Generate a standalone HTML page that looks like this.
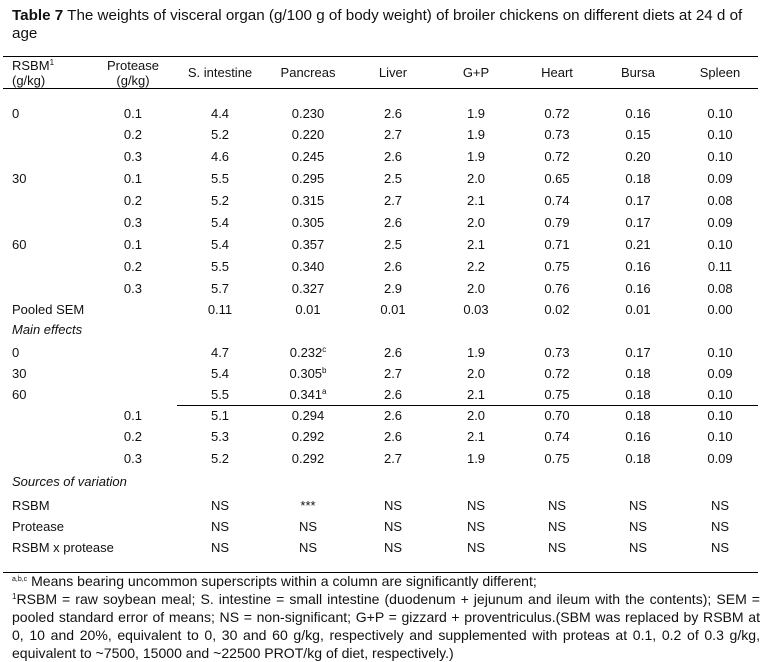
<!DOCTYPE html>
<html><head><meta charset="utf-8">
<style>
body{margin:0;width:769px;height:662px;background:#fff;position:relative;overflow:hidden;font-family:"Liberation Sans",Arial,sans-serif;color:#111;}
.t{position:absolute;font-size:13px;line-height:16px;white-space:nowrap;}
.c{transform:translateX(-50%);text-align:center;}
.r{transform:translateX(-100%);text-align:right;}
.hl{position:absolute;height:1px;background:#000;}
sup{font-size:8px;line-height:0;vertical-align:5px;}
#title{position:absolute;left:12px;top:7px;width:752px;font-size:15.2px;line-height:18px;}
#foot{position:absolute;left:12px;top:572px;width:748px;font-size:14.05px;line-height:18px;text-align:justify;}
</style></head>
<body>
<div id="title"><b>Table 7</b> The weights of visceral organ (g/100 g of body weight) of broiler chickens on different diets at 24 d of age</div>
<div class="hl" style="left:3px;width:755px;top:56px"></div>
<div class="hl" style="left:3px;width:755px;top:88px"></div>
<div class="hl" style="left:177px;width:581px;top:405px"></div>
<div class="hl" style="left:3px;width:755px;top:572px"></div>
<div class="t" style="left:12px;top:58px;line-height:15px">RSBM<sup>1</sup><br>(g/kg)</div>
<div class="t c" style="left:133px;top:58px;line-height:15px">Protease<br>(g/kg)</div>
<div id="foot"><sup style="font-size:7px">a,b,c</sup> Means bearing uncommon superscripts within a column are significantly different;<br><sup>1</sup>RSBM = raw soybean meal; S. intestine = small intestine (duodenum + jejunum and ileum with the contents); SEM = pooled standard error of means; NS = non-significant; G+P = gizzard + proventriculus.(SBM was replaced by RSBM at 0, 10 and 20%, equivalent to 0, 30 and 60 g/kg, respectively and supplemented with proteas at 0.1, 0.2 of 0.3 g/kg, equivalent to ~7500, 15000 and ~22500 PROT/kg of diet, respectively.)</div>
<script>
const colHeaders=["S. intestine","Pancreas","Liver","G+P","Heart","Bursa","Spleen"];
const colX=[220,308,393,476,557,638,720];
const rowY=[114,135,157,179,201,223,245,267,289,310,330,353,374,395,416,437,459,482,506,527,548];
const rowLabels=["0","","","30","","","60","","","Pooled SEM","Main effects","0","30","60","","","","Sources of variation","RSBM","Protease","RSBM x protease"];
const italicRows=[10,17];
const proteaseLabels=["0.1","0.2","0.3","0.1","0.2","0.3","0.1","0.2","0.3","","","","","","0.1","0.2","0.3","","","",""];
const cells=[
["4.4","0.230","2.6","1.9","0.72","0.16","0.10"],
["5.2","0.220","2.7","1.9","0.73","0.15","0.10"],
["4.6","0.245","2.6","1.9","0.72","0.20","0.10"],
["5.5","0.295","2.5","2.0","0.65","0.18","0.09"],
["5.2","0.315","2.7","2.1","0.74","0.17","0.08"],
["5.4","0.305","2.6","2.0","0.79","0.17","0.09"],
["5.4","0.357","2.5","2.1","0.71","0.21","0.10"],
["5.5","0.340","2.6","2.2","0.75","0.16","0.11"],
["5.7","0.327","2.9","2.0","0.76","0.16","0.08"],
["0.11","0.01","0.01","0.03","0.02","0.01","0.00"],
["","","","","","",""],
["4.7","0.232<sup>c</sup>","2.6","1.9","0.73","0.17","0.10"],
["5.4","0.305<sup>b</sup>","2.7","2.0","0.72","0.18","0.09"],
["5.5","0.341<sup>a</sup>","2.6","2.1","0.75","0.18","0.10"],
["5.1","0.294","2.6","2.0","0.70","0.18","0.10"],
["5.3","0.292","2.6","2.1","0.74","0.16","0.10"],
["5.2","0.292","2.7","1.9","0.75","0.18","0.09"],
["","","","","","",""],
["NS","***","NS","NS","NS","NS","NS"],
["NS","NS","NS","NS","NS","NS","NS"],
["NS","NS","NS","NS","NS","NS","NS"]];
function mk(cls,x,y,html){const d=document.createElement('div');d.className='t '+cls;d.style.left=x+'px';d.style.top=(y-8)+'px';d.innerHTML=html;document.body.appendChild(d);return d;}
colHeaders.forEach((h,i)=>{const d=mk('c',colX[i],73,h);

});
rowY.forEach((y,r)=>{
 if(rowLabels[r]){const d=mk('',12,y,rowLabels[r]);if(italicRows.includes(r))d.style.fontStyle='italic';
 
 }
 if(proteaseLabels[r]){const d=mk('r',142,y,proteaseLabels[r]);
 
 }
 cells[r].forEach((v,i)=>{if(!v)return;const d=mk('c',colX[i],y,v);
 
 });
});
</script>
</body></html>
